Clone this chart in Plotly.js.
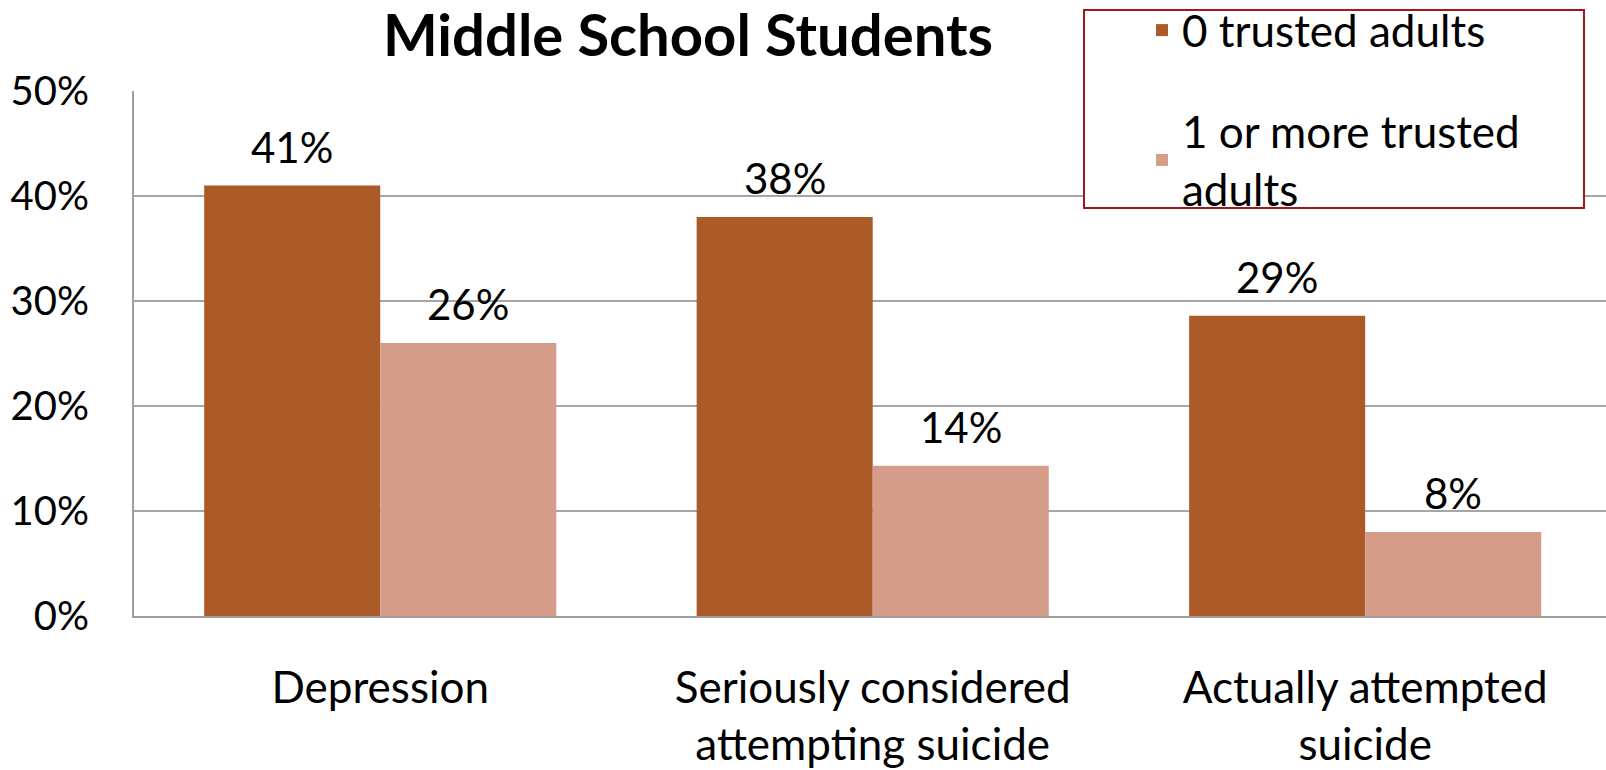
<!DOCTYPE html>
<html>
<head>
<meta charset="utf-8">
<script src="https://cdn.plot.ly/plotly-3.0.1.min.js"></script>
<style>html,body{margin:0;padding:0;background:#fff;}#chart{width:1606px;height:770px;}</style>
</head>
<body>
<div id="chart"></div>
<script>
const categories = ["Depression", "Seriously considered<br>attempting suicide", "Actually attempted<br>suicide"];
const seriesNames = ["0 trusted adults", "1 or more trusted<br>adults"];
const zeroTrusted = [0.41, 0.38, 0.286];
const oneOrMoreTrusted = [0.26, 0.143, 0.08];
const seriesValues = [zeroTrusted, oneOrMoreTrusted];
const seriesColors = ["#AB5A28", "#D49C89"];
const yTickVals = [0, 0.1, 0.2, 0.3, 0.4, 0.5];
const yTickText = ["0%", "10%", "20%", "30%", "40%", "50%"];

const FONT = "Lato, 'Open Sans', sans-serif";

// plot area geometry (pixels)
const PL = 134, PT = 91, PW = 1606 - 134, PH = 616 - 91;
const px2x = (px) => (px - PL) / PW;
const px2y = (py) => 1 - (py - PT) / PH;

const traces = seriesValues.map((vals, i) => ({
  type: "bar",
  name: seriesNames[i],
  x: categories,
  y: vals,
  marker: {color: seriesColors[i], line: {width: 0}},
  legendgroup: "g" + i,
  hoverinfo: "skip"
}));

const barHalf = 88;
const annotations = [];
seriesValues.forEach((vals, i) => {
  vals.forEach((v, j) => {
    annotations.push({
      x: categories[j], y: v, xref: "x", yref: "y",
      xshift: i === 0 ? -barHalf : barHalf,
      yshift: 12,
      yanchor: "bottom", xanchor: "center",
      showarrow: false,
      text: Math.round(v * 100) + "%",
      font: {family: FONT, size: 42, color: "#000"}
    });
  });
});

const layout = {
  width: 1606, height: 770,
  paper_bgcolor: "#fff", plot_bgcolor: "#fff",
  margin: {l: PL, r: 0, t: PT, b: 770 - 616, pad: 0, autoexpand: false},
  title: {
    text: "<b>Middle School Students</b>",
    font: {family: FONT, size: 58, color: "#000"},
    xref: "container", yref: "container",
    x: 688 / 1606, xanchor: "center",
    y: 1 - 36 / 770, yanchor: "middle"
  },
  barmode: "group",
  bargap: 0.285,
  bargroupgap: 0,
  xaxis: {
    type: "category",
    range: [-0.5, 2.489],
    showgrid: false,
    showline: true, linecolor: "#A0A0A0", linewidth: 2,
    ticks: "",
    tickangle: 0,
    automargin: false,
    ticklabelstandoff: 32,
    tickfont: {family: FONT, size: 44, color: "#000"},
    fixedrange: true
  },
  yaxis: {
    range: [0, 0.5],
    tickvals: yTickVals, ticktext: yTickText,
    showgrid: true, gridcolor: "#A6A6A6", gridwidth: 2,
    zeroline: false,
    showline: true, linecolor: "#A0A0A0", linewidth: 2,
    ticks: "",
    automargin: false,
    ticklabelstandoff: 35,
    tickfont: {family: FONT, size: 40, color: "#000"},
    fixedrange: true
  },
  showlegend: true,
  legend: {
    xref: "paper", yref: "paper",
    x: px2x(1142), xanchor: "left",
    y: px2y(-5), yanchor: "top",
    bgcolor: "rgba(0,0,0,0)",
    borderwidth: 0,
    font: {family: FONT, size: 44, color: "#000"},
    tracegroupgap: 41,
    traceorder: "grouped"
  },
  shapes: [{
    type: "rect", xref: "paper", yref: "paper",
    x0: px2x(1084), x1: px2x(1584),
    y0: px2y(208), y1: px2y(10),
    line: {color: "#A0161C", width: 2},
    fillcolor: "#fff",
    layer: "above"
  }],
  annotations: annotations
};

Plotly.newPlot("chart", traces, layout, {staticPlot: true, displayModeBar: false});
</script>
</body>
</html>
